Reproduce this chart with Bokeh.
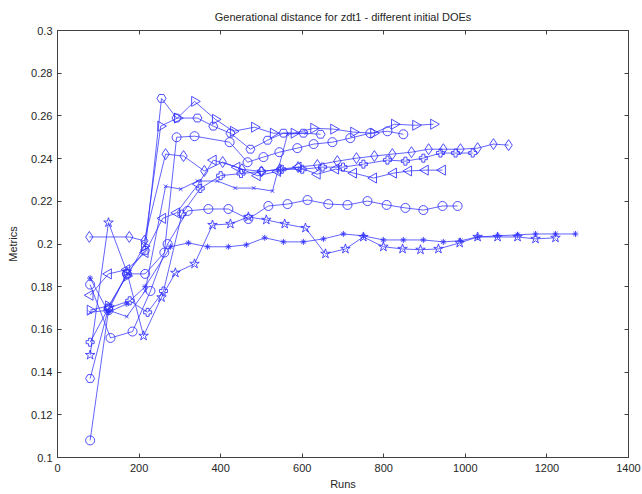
from bokeh.plotting import figure
from bokeh.models import LinearAxis, FixedTicker, Range1d
from bokeh.embed import file_html
from bokeh.resources import INLINE
import math

# ---- data ----
x_ticks = [0, 200, 400, 600, 800, 1000, 1200, 1400]
x_tick_labels = ["0", "200", "400", "600", "800", "1000", "1200", "1400"]
y_ticks = [0.1, 0.12, 0.14, 0.16, 0.18, 0.2, 0.22, 0.24, 0.26, 0.28, 0.3]
y_tick_labels = ["0.1", "0.12", "0.14", "0.16", "0.18", "0.2", "0.22", "0.24", "0.26", "0.28", "0.3"]

# asterisk-marker series (ends ~1270)
runs_a = [80, 125, 170, 215, 277, 321, 368, 419, 463, 508, 554, 603, 652, 701, 750, 799, 848, 897, 946, 988, 1030, 1079, 1128, 1172, 1221, 1270]
gd_a = [0.184, 0.168, 0.172, 0.180, 0.1987, 0.2005, 0.1987, 0.1987, 0.1996, 0.2029, 0.2010, 0.2010, 0.2024, 0.2047, 0.2038, 0.2019, 0.2019, 0.2019, 0.2010, 0.2015, 0.2033, 0.2038, 0.2043, 0.2047, 0.2047, 0.2047]

# pentagram series (ends ~1220)
runs_b = [80, 125, 170, 211, 255, 289, 336, 380, 424, 468, 512, 557, 608, 657, 706, 750, 799, 846, 890, 934, 986, 1030, 1079, 1128, 1172, 1221]
gd_b = [0.148, 0.210, 0.187, 0.157, 0.175, 0.1865, 0.1907, 0.2089, 0.2094, 0.2127, 0.2113, 0.2094, 0.2075, 0.1954, 0.1977, 0.2033, 0.1987, 0.1977, 0.1973, 0.1977, 0.2005, 0.2033, 0.2033, 0.2033, 0.2024, 0.2029]

# circle series (ends ~980 at 0.218)
runs_c = [80, 130, 184, 228, 270, 319, 370, 419, 468, 517, 564, 613, 664, 711, 760, 807, 853, 897, 944, 981]
gd_c = [0.181, 0.156, 0.159, 0.178, 0.200, 0.2155, 0.2164, 0.2164, 0.2117, 0.2178, 0.2187, 0.2206, 0.2187, 0.2183, 0.2201, 0.2183, 0.2169, 0.2159, 0.2178, 0.2178]

# circle series (starts 0.108, ends ~850 at 0.251)
runs_g = [80, 125, 170, 215, 262, 292, 336, 422, 466, 505, 544, 588, 628, 674, 718, 767, 809, 848]
gd_g = [0.108, 0.169, 0.186, 0.186, 0.196, 0.250, 0.2505, 0.2477, 0.2383, 0.2407, 0.2430, 0.2449, 0.2468, 0.2477, 0.2496, 0.2519, 0.2528, 0.2514]

# hexagram series (peak 0.268)
runs_h = [80, 125, 170, 215, 255, 292, 343, 382, 424, 473, 515, 554, 603, 645]
gd_h = [0.137, 0.170, 0.186, 0.197, 0.2682, 0.259, 0.259, 0.2552, 0.2519, 0.2444, 0.2486, 0.2519, 0.2519, 0.2514]

# right-triangle series (ends ~920 at 0.256)
runs_r = [80, 125, 170, 213, 253, 294, 336, 387, 431, 483, 529, 580, 628, 677, 726, 775, 826, 878, 922]
gd_r = [0.169, 0.171, 0.185, 0.199, 0.2552, 0.259, 0.2668, 0.2584, 0.2528, 0.2547, 0.2519, 0.2519, 0.2542, 0.2538, 0.2524, 0.2519, 0.2561, 0.2556, 0.2561]

# diamond series (ends ~1110 at 0.246)
runs_d = [78, 176, 213, 265, 309, 360, 405, 452, 500, 545, 590, 637, 686, 733, 777, 821, 868, 910, 946, 988, 1030, 1069, 1106]
gd_d = [0.2033, 0.2033, 0.2015, 0.2421, 0.2412, 0.2342, 0.2384, 0.2350, 0.2340, 0.2350, 0.2360, 0.2370, 0.2388, 0.2402, 0.2412, 0.2421, 0.2430, 0.2444, 0.2444, 0.2444, 0.2449, 0.2468, 0.2463]

# left-triangle series (ends ~945 at 0.235)
runs_l = [80, 125, 170, 215, 258, 292, 345, 382, 440, 490, 540, 590, 637, 682, 726, 775, 824, 861, 902, 944]
gd_l = [0.176, 0.186, 0.188, 0.196, 0.212, 0.2146, 0.228, 0.2393, 0.236, 0.232, 0.234, 0.236, 0.2327, 0.2351, 0.2332, 0.2309, 0.2332, 0.2342, 0.2346, 0.2346]

# plus series (ends ~1020 at 0.243)
runs_p = [80, 125, 177, 221, 260, 305, 350, 400, 450, 500, 550, 600, 650, 700, 750, 809, 853, 897, 939, 976, 1018]
gd_p = [0.154, 0.170, 0.1734, 0.168, 0.178, 0.214, 0.226, 0.232, 0.233, 0.234, 0.235, 0.235, 0.236, 0.236, 0.2374, 0.2393, 0.2388, 0.2402, 0.2426, 0.2426, 0.2426]

# x-mark series (jumps to 0.251 near 560)
runs_x = [80, 125, 170, 215, 265, 302, 343, 392, 436, 481, 527, 564, 610]
gd_x = [0.168, 0.169, 0.166, 0.178, 0.227, 0.2257, 0.2295, 0.2295, 0.2262, 0.2262, 0.2248, 0.2514, 0.2520]

series = [
    (runs_a, gd_a, "asterisk", 6, 0.0),
    (runs_b, gd_b, "star", 10, 0.0),
    (runs_c, gd_c, "circle", 9, 0.0),
    (runs_g, gd_g, "circle", 9, 0.0),
    (runs_h, gd_h, "hex", 9, 0.0),
    (runs_r, gd_r, "triangle", 10, -math.pi / 2),
    (runs_d, gd_d, "diamond", 11, 0.0),
    (runs_l, gd_l, "triangle", 10, math.pi / 2),
    (runs_p, gd_p, "plus", 8, 0.0),
    (runs_x, gd_x, "x", 5, 0.0),
]

LINE = "#3030ff"
FONT = "Liberation Sans"
TXT = "#262626"

p = figure(width=642, height=494, output_backend="svg", toolbar_location=None,
           x_range=Range1d(0, 1400), y_range=Range1d(0.1, 0.3),
           min_border_left=57, min_border_right=14, min_border_top=29, min_border_bottom=37,
           x_axis_label="Runs", y_axis_label="Metrics",
           title="Generational distance for zdt1 - different initial DOEs")

p.background_fill_color = "white"
p.border_fill_color = "white"
p.xgrid.visible = False
p.ygrid.visible = False
p.outline_line_color = "#404040"
p.outline_line_width = 1

p.title.align = "center"
p.title.text_font = FONT
p.title.text_font_size = "11px"
p.title.text_font_style = "normal"
p.title.text_color = TXT
p.title.standoff = 16

for ax, ticks, labels in ((p.xaxis[0], x_ticks, x_tick_labels), (p.yaxis[0], y_ticks, y_tick_labels)):
    ax.ticker = FixedTicker(ticks=ticks)
    ax.major_label_overrides = {t: s for t, s in zip(ticks, labels)}
    ax.major_tick_in = 4
    ax.major_tick_out = 0
    ax.minor_tick_line_color = None
    ax.axis_line_color = "#404040"
    ax.major_tick_line_color = "#404040"
    ax.major_label_text_font = FONT
    ax.major_label_text_font_size = "11px"
    ax.major_label_text_color = TXT
    ax.axis_label_text_font = FONT
    ax.axis_label_text_font_size = "11px"
    ax.axis_label_text_font_style = "normal"
    ax.axis_label_text_color = TXT
p.xaxis[0].major_label_standoff = 6
p.xaxis[0].axis_label_standoff = 3
p.yaxis[0].major_label_standoff = 5
p.yaxis[0].axis_label_standoff = 9

for loc, ticks in (("above", x_ticks), ("right", y_ticks)):
    ax = LinearAxis(ticker=FixedTicker(ticks=ticks), major_tick_in=4, major_tick_out=0,
                    minor_tick_line_color=None, axis_line_color="#404040",
                    major_tick_line_color="#404040", major_label_text_font_size="0px",
                    major_label_text_color=None, major_label_standoff=0,
                    major_label_overrides={t: "" for t in ticks})
    p.add_layout(ax, loc)

for xs, ys, marker, size, ang in series:
    p.line(xs, ys, line_color=LINE, line_width=1, line_alpha=0.75)
    p.scatter(xs, ys, marker=marker, size=size, angle=ang, fill_color=None,
              line_color=LINE, line_width=1, line_alpha=0.85)

open("out.html", "w").write(file_html(p, INLINE))
